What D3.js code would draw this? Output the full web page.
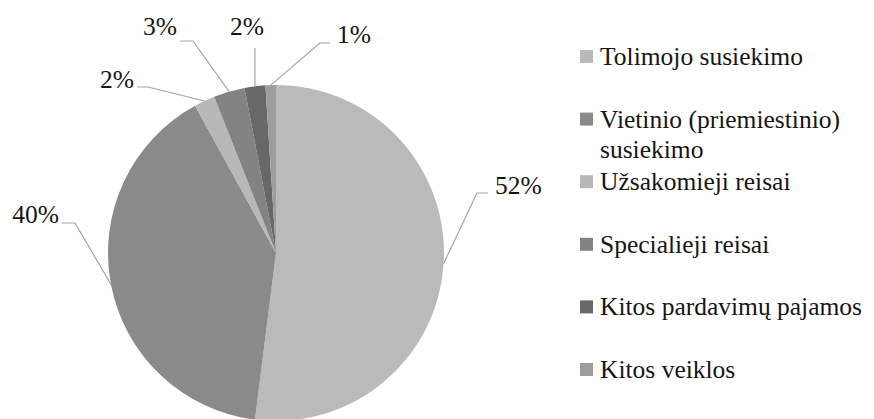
<!DOCTYPE html>
<html>
<head>
<meta charset="utf-8">
<script src="https://cdn.jsdelivr.net/npm/d3@7"></script>
<style>
  html, body { margin: 0; padding: 0; background: #fff; }
  svg { display: block; }
  text { font-family: "Liberation Serif", "Times New Roman", serif; fill: #151515; }
</style>
</head>
<body>
<svg id="chart" width="874" height="419"></svg>
<script>
// ---- data ----
const categories = [
  "Tolimojo susiekimo",
  "Vietinio (priemiestinio) susiekimo",
  "Užsakomieji reisai",
  "Specialieji reisai",
  "Kitos pardavimų pajamos",
  "Kitos veiklos"
];
const legendLines = [
  ["Tolimojo susiekimo"],
  ["Vietinio (priemiestinio)", "susiekimo"],
  ["Užsakomieji reisai"],
  ["Specialieji reisai"],
  ["Kitos pardavimų pajamos"],
  ["Kitos veiklos"]
];
const values = [52, 40, 2, 3, 2, 1];
const colors = ["#bababa", "#8a8a8a", "#b8b8b8", "#838383", "#686868", "#9d9d9d"];

// ---- layout ----
const W = 874, H = 419;
const cx = 276, cy = 253, R = 168;
// label layout: elbow point, line end, text anchor point (relative to pie center)
const labelLayout = [
  { elbow: [201, -60], end: [212, -60], text: [219, -59], anchor: "start" },
  { elbow: [-201, -30], end: [-214, -30], text: [-217, -30], anchor: "end" },
  { elbow: [-128, -166], end: [-139, -166], text: [-142, -165], anchor: "end" },
  { elbow: [-83, -212], end: [-96, -212], text: [-99, -218], anchor: "end" },
  { elbow: null, end: [null, -205], text: [-29, -218], anchor: "middle" },
  { elbow: [44, -210], end: [54, -210], text: [61, -210], anchor: "start" }
];

const svg = d3.select("#chart");
svg.append("rect").attr("width", W).attr("height", H).attr("fill", "#fff");

const data = categories.map((c, i) => ({ name: c, value: values[i], color: colors[i], i }));

const pie = d3.pie().value(d => d.value).sort(null);
const arcs = pie(data);
const arc = d3.arc().innerRadius(0).outerRadius(R);
const edgeArc = d3.arc().innerRadius(R).outerRadius(R);

const g = svg.append("g").attr("transform", `translate(${cx},${cy})`);

g.selectAll("path.slice")
  .data(arcs)
  .enter().append("path")
  .attr("class", "slice")
  .attr("d", arc)
  .attr("fill", d => d.data.color)
  .attr("stroke", "none");

// leader lines and labels
const fmt = d => d3.format(".0f")(d) + "%";
arcs.forEach((a, i) => {
  const L = labelLayout[i];
  const p0 = edgeArc.centroid(a);
  let pts;
  if (L.elbow) {
    pts = [p0, L.elbow, L.end];
  } else {
    pts = [p0, [p0[0], L.end[1]]];
  }
  g.append("path")
    .attr("d", d3.line()(pts))
    .attr("fill", "none")
    .attr("stroke", "#a4a4a4")
    .attr("stroke-width", 1.2);
  g.append("text")
    .attr("x", L.text[0])
    .attr("y", L.text[1])
    .attr("text-anchor", L.anchor)
    .attr("font-size", 25.5)
    .text(fmt(a.data.value));
});

// legend
const legendX = 580, legendTop = 50, legendStep = 62.6, sq = 13;
const lg = svg.append("g");
data.forEach((d, i) => {
  const y = legendTop + i * legendStep;
  lg.append("rect")
    .attr("x", legendX).attr("y", y)
    .attr("width", sq).attr("height", sq)
    .attr("fill", d.color);
  const t = lg.append("text")
    .attr("x", legendX + 20)
    .attr("y", y + 15)
    .attr("font-size", 25.5);
  legendLines[i].forEach((ln, k) => {
    t.append("tspan")
      .attr("x", legendX + 20)
      .attr("dy", k === 0 ? 0 : 30)
      .text(ln);
  });
});
</script>
</body>
</html>
